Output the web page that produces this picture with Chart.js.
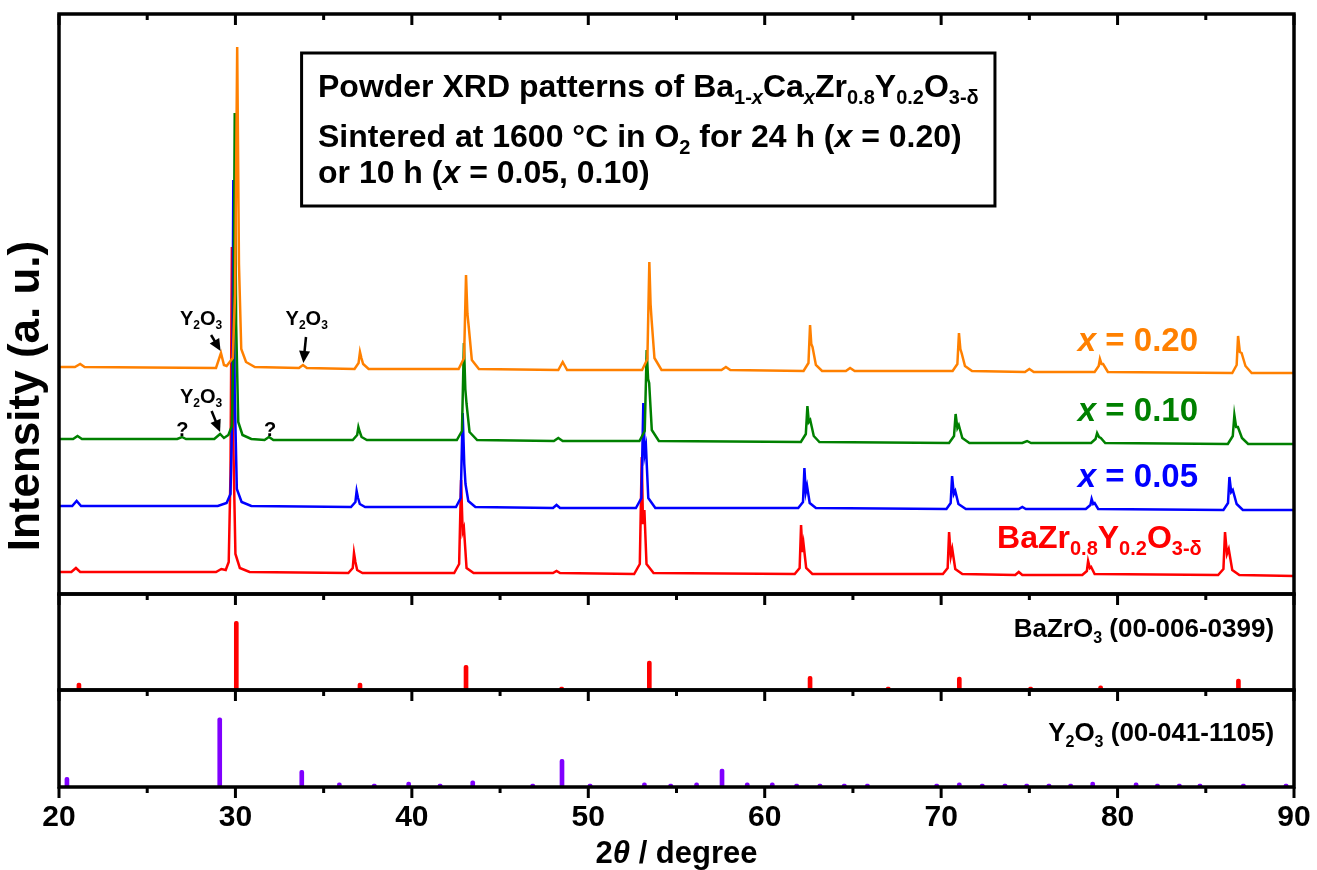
<!DOCTYPE html>
<html>
<head>
<meta charset="utf-8">
<script src="https://cdn.jsdelivr.net/npm/chart.js@4.4.1/dist/chart.umd.min.js"></script>
<style>
  html, body { margin: 0; padding: 0; background: #fff; }
  #wrap { position: relative; width: 1317px; height: 870px; }
  canvas { position: absolute; left: 0; }
</style>
</head>
<body>
<div id="wrap">
  <canvas id="main" style="top:0" width="1317" height="608"></canvas>
  <canvas id="bzo" style="top:588px" width="1317" height="116"></canvas>
  <canvas id="yo" style="top:684px" width="1317" height="186"></canvas>
</div>
<script>
const FONT = "'Liberation Sans', Arial, sans-serif";
const ORANGE = '#FF8000';
const GREEN = '#008000';
const BLUE = '#0000FF';
const RED = '#FF0000';
const PURPLE = '#8000FF';

// measured patterns, [2theta, intensity (offset, a.u.)]
const pat020 = [[20,227],[20.9,227],[21.2,230],[21.45,227],[25,226.5],[28.9,226],[29.18,241],[29.35,229],[29.5,228],[29.85,236],[29.98,300],[30.1,547],[30.2,330],[30.33,245],[30.6,232],[31.1,227],[33.6,226],[33.83,229],[34.05,226],[36.75,225],[36.98,231],[37.06,242],[37.14,236],[37.24,230],[37.55,225],[42.65,225],[42.96,236],[43.07,319],[43.15,280],[43.22,268],[43.4,234],[43.8,225],[48.3,224],[48.55,232],[48.8,224],[53.05,224],[53.35,235],[53.46,332],[53.53,290],[53.59,274],[53.75,236],[54.15,224],[57.55,224],[57.8,227],[58.05,224],[62.2,223],[62.48,231],[62.57,269],[62.64,250],[62.71,247],[62.9,229],[63.25,223],[64.6,223],[64.84,226],[65.1,223],[70.65,223],[70.92,230],[71.01,261],[71.09,245],[71.16,241],[71.35,228],[71.75,223],[74.75,222],[75.0,225],[75.25,222],[78.7,222],[78.93,228],[79.0,235],[79.09,230],[79.18,230],[79.45,222],[86.5,221],[86.75,229],[86.83,258],[86.93,242],[87.03,241],[87.25,228],[87.6,221],[90,221]];
const pat010 = [[20,155],[20.8,155],[21.05,158],[21.3,155],[26.7,155],[26.97,157],[27.2,155],[28.8,155],[29.13,160],[29.35,156],[29.6,159],[29.8,168],[29.89,250],[29.96,481],[30.04,270],[30.16,172],[30.4,159],[30.9,155],[31.65,154],[31.9,157],[32.15,154],[36.65,154],[36.9,159],[36.97,167],[37.05,162],[37.15,157],[37.45,154],[42.55,154],[42.84,163],[42.95,251],[43.03,205],[43.1,190],[43.27,162],[43.7,154],[48.05,153],[48.3,156],[48.55,153],[52.9,153],[53.2,163],[53.31,244],[53.39,215],[53.45,211],[53.6,164],[54.0,153],[62.05,152],[62.33,160],[62.42,188],[62.5,172],[62.58,174],[62.78,158],[63.1,152],[70.45,151],[70.73,158],[70.82,180],[70.92,166],[71.0,169],[71.2,156],[71.6,151],[74.6,151],[74.87,153],[75.1,151],[78.5,151],[78.75,155],[78.84,161],[78.95,157],[79.05,156],[79.3,151],[86.25,150],[86.53,158],[86.62,179],[86.72,167],[86.82,167],[87.05,156],[87.4,150],[90,150]];
const pat005 = [[20,88],[20.75,88],[21.0,93],[21.25,88],[29.0,88],[29.5,91],[29.72,100],[29.82,180],[29.88,414],[29.96,200],[30.08,105],[30.35,92],[30.9,88],[36.55,87],[36.8,92],[36.87,103],[36.95,96],[37.05,90],[37.35,87],[42.5,87],[42.77,96],[42.88,181],[42.97,130],[43.04,110],[43.2,93],[43.6,87],[48.0,86],[48.2,89],[48.4,86],[52.7,86],[53.01,96],[53.12,191],[53.2,140],[53.27,147],[53.4,96],[53.8,86],[61.9,86],[62.17,92],[62.25,126],[62.33,102],[62.4,108],[62.55,91],[62.9,86],[70.3,85],[70.54,91],[70.62,118],[70.72,100],[70.8,103],[70.98,90],[71.4,85],[74.4,85],[74.6,87],[74.8,85],[78.2,85],[78.46,89],[78.53,95],[78.62,90],[78.7,91],[78.9,85],[86.0,84],[86.26,91],[86.34,117],[86.44,102],[86.53,104],[86.75,90],[87.1,84],[90,84]];
const patBZY = [[20,22],[20.7,22],[20.96,26],[21.2,22],[28.9,22],[29.2,25],[29.45,24],[29.62,32],[29.72,120],[29.8,347],[29.88,150],[30.0,40],[30.25,26],[30.8,22],[36.4,21],[36.65,26],[36.72,41],[36.8,32],[36.9,24],[37.2,21],[42.4,21],[42.68,30],[42.79,114],[42.88,62],[42.95,66],[43.1,26],[43.5,21],[48.0,21],[48.2,23],[48.4,21],[52.6,20],[52.92,30],[53.03,137],[53.1,70],[53.18,84],[53.3,30],[53.7,21],[61.7,20],[61.98,26],[62.06,69],[62.14,42],[62.2,50],[62.35,26],[62.7,20],[70.1,20],[70.37,26],[70.45,62],[70.55,38],[70.63,45],[70.8,25],[71.2,20],[74.2,19],[74.4,22],[74.6,19],[78.0,19],[78.26,23],[78.33,33],[78.43,26],[78.5,27],[78.7,20],[85.7,19],[86.0,25],[86.09,62],[86.2,40],[86.3,45],[86.5,24],[86.9,19],[90,18]];

// reference cards (relative intensity)
const bzoPos = [21.13, 30.05, 37.06, 43.07, 48.49, 53.46, 62.57, 67.0, 71.03, 75.07, 79.04, 86.85];
const bzoInt = [10, 100, 10, 36, 2, 42, 20, 1, 19, 2, 6, 16];
const yoPos = [20.45, 29.11, 33.76, 35.89, 37.87, 39.82, 41.6, 43.45, 46.85, 48.51, 50.1, 53.18, 54.67, 56.14, 57.58, 59.01, 60.43, 61.81, 63.13, 64.51, 65.82, 69.75, 71.03, 72.33, 73.62, 74.85, 76.11, 77.34, 78.59, 81.05, 82.26, 83.5, 84.67, 87.13, 89.55];
const yoInt = [14, 100, 24, 6, 1.5, 7, 1.5, 9, 3, 40, 3, 6, 1.5, 6, 26, 6, 6, 3, 1.5, 4, 1.5, 3, 6, 3.5, 3, 3, 2, 3, 7, 6, 2, 2, 3, 3, 3];

const seriesNames = ['x = 0.20', 'x = 0.10', 'x = 0.05', 'BaZr0.8Y0.2O3-δ'];
const xTicks = [20, 30, 40, 50, 60, 70, 80, 90];

function rich(ctx, x, y, runs, size, align) {
  const parts = runs.map(([t, k]) => {
    const sub = k.indexOf('sub') >= 0;
    const it = k === 'i' || k === 'isub';
    const s = sub ? Math.round(size * 0.62) : size;
    const font = (it ? 'italic ' : '') + 'bold ' + s + 'px ' + FONT;
    ctx.font = font;
    return { t, font, w: ctx.measureText(t).width, dy: sub ? size * 0.22 : 0 };
  });
  const total = parts.reduce((a, p) => a + p.w, 0);
  let cx = align === 'right' ? x - total : align === 'center' ? x - total / 2 : x;
  ctx.textAlign = 'left';
  ctx.textBaseline = 'alphabetic';
  for (const p of parts) {
    ctx.font = p.font;
    ctx.fillText(p.t, cx, y + p.dy);
    cx += p.w;
  }
}

function arrow(ctx, x1, y1, x2, y2) {
  const a = Math.atan2(y2 - y1, x2 - x1);
  ctx.lineWidth = 2.5;
  ctx.beginPath();
  ctx.moveTo(x1, y1);
  ctx.lineTo(x2 - 8 * Math.cos(a), y2 - 8 * Math.sin(a));
  ctx.stroke();
  ctx.beginPath();
  ctx.moveTo(x2, y2);
  ctx.lineTo(x2 - 12 * Math.cos(a) + 5.5 * Math.sin(a), y2 - 12 * Math.sin(a) - 5.5 * Math.cos(a));
  ctx.lineTo(x2 - 12 * Math.cos(a) - 5.5 * Math.sin(a), y2 - 12 * Math.sin(a) + 5.5 * Math.cos(a));
  ctx.closePath();
  ctx.fill();
}

// box + ticks on every panel
const frame = {
  id: 'frame',
  afterDraw(chart, args, opts) {
    const { ctx, chartArea: a, scales: { x } } = chart;
    ctx.save();
    ctx.strokeStyle = '#000';
    ctx.lineWidth = 3;
    for (let t = 20; t <= 90; t += 5) {
      const px = x.getPixelForValue(t);
      const len = t % 10 === 0 ? 11 : 6;
      ctx.beginPath();
      ctx.moveTo(px, a.bottom);
      ctx.lineTo(px, a.bottom + len);
      if (opts.top) {
        ctx.moveTo(px, a.top);
        ctx.lineTo(px, a.top + len);
      }
      ctx.stroke();
    }
    ctx.lineWidth = 3.5;
    ctx.strokeRect(a.left, a.top, a.right - a.left, a.bottom - a.top);
    ctx.restore();
  }
};

const mainNotes = {
  id: 'mainNotes',
  afterDraw(chart) {
    const { ctx, scales: { x, y } } = chart;
    const X = v => x.getPixelForValue(v), Y = v => y.getPixelForValue(v);
    ctx.save();
    ctx.fillStyle = '#000';
    ctx.strokeStyle = '#000';
    ctx.lineWidth = 3;
    ctx.strokeRect(X(33.75), Y(541), X(73.05) - X(33.75), Y(388) - Y(541));
    rich(ctx, X(34.68), Y(497), [['Powder XRD patterns of Ba', 'n'], ['1-', 'sub'], ['x', 'isub'], ['Ca', 'n'], ['x', 'isub'], ['Zr', 'n'], ['0.8', 'sub'], ['Y', 'n'], ['0.2', 'sub'], ['O', 'n'], ['3-δ', 'sub']], 32, 'left');
    rich(ctx, X(34.68), Y(447), [['Sintered at 1600 °C in O', 'n'], ['2', 'sub'], [' for 24 h (', 'n'], ['x', 'i'], [' = 0.20)', 'n']], 32, 'left');
    rich(ctx, X(34.68), Y(411), [['or 10 h (', 'n'], ['x', 'i'], [' = 0.05, 0.10)', 'n']], 32, 'left');

    // series labels
    ctx.fillStyle = ORANGE;
    rich(ctx, X(84.56), Y(243), [['x', 'i'], [seriesNames[0].slice(1), 'n']], 33, 'right');
    ctx.fillStyle = GREEN;
    rich(ctx, X(84.56), Y(173), [['x', 'i'], [seriesNames[1].slice(1), 'n']], 33, 'right');
    ctx.fillStyle = BLUE;
    rich(ctx, X(84.56), Y(107), [['x', 'i'], [seriesNames[2].slice(1), 'n']], 33, 'right');
    ctx.fillStyle = RED;
    rich(ctx, X(73.17), Y(46), [['BaZr', 'n'], ['0.8', 'sub'], ['Y', 'n'], ['0.2', 'sub'], ['O', 'n'], ['3-δ', 'sub']], 32, 'left');

    // impurity marks
    ctx.fillStyle = '#000';
    const y2o3 = [['Y', 'n'], ['2', 'sub'], ['O', 'n'], ['3', 'sub']];
    rich(ctx, X(28.05), Y(269), y2o3, 20, 'center');
    rich(ctx, X(34.04), Y(269), y2o3, 20, 'center');
    rich(ctx, X(28.05), Y(191), y2o3, 20, 'center');
    arrow(ctx, X(28.62), Y(259), X(29.16), Y(243));
    arrow(ctx, X(34.0), Y(257), X(33.85), Y(231));
    arrow(ctx, X(28.65), Y(183), X(29.13), Y(162));
    rich(ctx, X(26.99), Y(158), [['?', 'n']], 20, 'center');
    rich(ctx, X(31.96), Y(158), [['?', 'n']], 20, 'center');

    // y title
    ctx.translate(chart.chartArea.left - 32, 396);
    ctx.rotate(-Math.PI / 2);
    ctx.font = 'bold 44px ' + FONT;
    ctx.textAlign = 'center';
    ctx.textBaseline = 'middle';
    ctx.fillText('Intensity (a. u.)', 0, 0);
    ctx.restore();
  }
};

const cardLabel = {
  id: 'cardLabel',
  afterDraw(chart, args, opts) {
    const { ctx, scales: { x, y } } = chart;
    ctx.save();
    ctx.fillStyle = '#000';
    rich(ctx, x.getPixelForValue(88.87), y.getPixelForValue(opts.at), opts.runs, 26, 'right');
    if (opts.xTitle) {
      const a = chart.chartArea;
      rich(ctx, (a.left + a.right) / 2, a.bottom + 76, [['2', 'n'], ['θ', 'i'], [' / degree', 'n']], 31, 'center');
    }
    ctx.restore();
  }
};

const hidden = { display: false };
const xHidden = { type: 'linear', min: 20, max: 90, offset: false, display: false };
const pad = { left: 59, right: 23 };

new Chart(document.getElementById('main'), {
  type: 'line',
  data: {
    datasets: [
      { label: seriesNames[0], data: pat020, borderColor: ORANGE },
      { label: seriesNames[1], data: pat010, borderColor: GREEN },
      { label: seriesNames[2], data: pat005, borderColor: BLUE },
      { label: seriesNames[3], data: patBZY, borderColor: RED },
    ].map(d => Object.assign(d, { borderWidth: 2.5, pointRadius: 0, tension: 0, fill: false }))
  },
  options: {
    responsive: false,
    animation: false,
    devicePixelRatio: 1,
    layout: { padding: Object.assign({ top: 14, bottom: 14 }, pad) },
    plugins: { legend: hidden, tooltip: { enabled: false }, frame: { top: true } },
    scales: {
      x: xHidden,
      y: { min: 0, max: 580, display: false }
    }
  },
  plugins: [frame, mainNotes]
});

new Chart(document.getElementById('bzo'), {
  type: 'bar',
  data: {
    datasets: [{
      label: 'BaZrO3 (00-006-0399)',
      data: bzoPos.map((p, i) => ({ x: p, y: bzoInt[i] })),
      backgroundColor: RED,
      barThickness: 4,
      borderRadius: 2,
      minBarLength: 3,
    }]
  },
  options: {
    responsive: false,
    animation: false,
    devicePixelRatio: 1,
    layout: { padding: Object.assign({ top: 6, bottom: 14 }, pad) },
    plugins: {
      legend: hidden, tooltip: { enabled: false },
      cardLabel: { at: 77, runs: [['BaZrO', 'n'], ['3', 'sub'], [' (00-006-0399)', 'n']] }
    },
    scales: {
      x: xHidden,
      y: { min: 0, max: 140, display: false }
    }
  },
  plugins: [frame, cardLabel]
});

new Chart(document.getElementById('yo'), {
  type: 'bar',
  data: {
    datasets: [{
      label: 'Y2O3 (00-041-1105)',
      data: yoPos.map((p, i) => ({ x: p, y: yoInt[i] })),
      backgroundColor: PURPLE,
      barThickness: 4,
      borderRadius: 2,
      minBarLength: 3,
    }]
  },
  options: {
    responsive: false,
    animation: false,
    devicePixelRatio: 1,
    layout: { padding: Object.assign({ top: 6, bottom: 0 }, pad) },
    plugins: {
      legend: hidden, tooltip: { enabled: false },
      cardLabel: { at: 66.4, xTitle: true, runs: [['Y', 'n'], ['2', 'sub'], ['O', 'n'], ['3', 'sub'], [' (00-041-1105)', 'n']] }
    },
    scales: {
      x: {
        type: 'linear', min: 20, max: 90, offset: false,
        afterBuildTicks: s => { s.ticks = xTicks.map(v => ({ value: v })); },
        afterFit: s => { s.height = 83; s.paddingLeft = 0; s.paddingRight = 0; },
        grid: { display: false, drawTicks: false, offset: false },
        border: { display: false },
        ticks: { color: '#000', padding: 13, font: { size: 30, weight: 'bold', family: FONT } }
      },
      y: { min: 0, max: 140, display: false }
    }
  },
  plugins: [frame, cardLabel]
});
</script>
</body>
</html>
